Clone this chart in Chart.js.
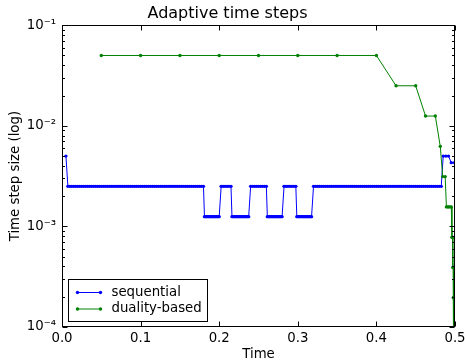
<!DOCTYPE html>
<html><head><meta charset="utf-8">
<script src="https://cdn.jsdelivr.net/npm/chart.js@4.4.1/dist/chart.umd.min.js"></script>
<style>html,body{margin:0;padding:0;background:#fff;} canvas{display:block;}</style>
</head><body>
<canvas id="c" width="465" height="360"></canvas>
<script>
const chartTitle = 'Adaptive time steps';
const xAxisTitle = 'Time';
const yAxisTitle = 'Time step size (log)';
const seriesNames = ['sequential', 'duality-based'];
const xTickValues = [0, 0.1, 0.2, 0.3, 0.4, 0.5];
const xTickLabels = ['0.0', '0.1', '0.2', '0.3', '0.4', '0.5'];
const yTickValues = [1e-4, 1e-3, 1e-2, 1e-1];
const yTickLabels = ['10⁻⁴', '10⁻³', '10⁻²', '10⁻¹'];

const sequentialTime = [
  0.005,
  0.0075,0.01,0.0125,0.015,0.0175,0.02,0.0225,0.025,0.0275,0.03,
  0.0325,0.035,0.0375,0.04,0.0425,0.045,0.0475,0.05,0.0525,0.055,
  0.0575,0.06,0.0625,0.065,0.0675,0.07,0.0725,0.075,0.0775,0.08,
  0.0825,0.085,0.0875,0.09,0.0925,0.095,0.0975,0.1,0.1025,0.105,
  0.1075,0.11,0.1125,0.115,0.1175,0.12,0.1225,0.125,0.1275,0.13,
  0.1325,0.135,0.1375,0.14,0.1425,0.145,0.1475,0.15,0.1525,0.155,
  0.1575,0.16,0.1625,0.165,0.1675,0.17,0.1725,0.175,0.1775,0.18,
  0.18125,0.1825,0.18375,0.185,0.18625,0.1875,0.18875,0.19,0.19125,0.1925,
  0.19375,0.195,0.19625,0.1975,0.19875,0.2,
  0.2025,0.205,0.2075,0.21,0.2125,0.215,
  0.21625,0.2175,0.21875,0.22,0.22125,0.2225,0.22375,0.225,0.22625,0.2275,
  0.22875,0.23,0.23125,0.2325,0.23375,0.235,0.23625,0.2375,
  0.24,0.2425,0.245,0.2475,0.25,0.2525,0.255,0.2575,0.26,
  0.26125,0.2625,0.26375,0.265,0.26625,0.2675,0.26875,0.27,0.27125,0.2725,
  0.27375,0.275,0.27625,0.2775,0.27875,0.28,
  0.2825,0.285,0.2875,0.29,0.2925,0.295,0.2975,
  0.29875,0.3,0.30125,0.3025,0.30375,0.305,0.30625,0.3075,0.30875,0.31,
  0.31125,0.3125,0.31375,0.315,0.31625,0.3175,
  0.32,0.3225,0.325,0.3275,0.33,0.3325,0.335,0.3375,0.34,0.3425,
  0.345,0.3475,0.35,0.3525,0.355,0.3575,0.36,0.3625,0.365,0.3675,
  0.37,0.3725,0.375,0.3775,0.38,0.3825,0.385,0.3875,0.39,0.3925,
  0.395,0.3975,0.4,0.4025,0.405,0.4075,0.41,0.4125,0.415,0.4175,
  0.42,0.4225,0.425,0.4275,0.43,0.4325,0.435,0.4375,0.44,0.4425,
  0.445,0.4475,0.45,0.4525,0.455,0.4575,0.46,0.4625,0.465,0.4675,
  0.47,0.4725,0.475,0.4775,0.48,0.4825,
  0.485,0.4883,0.4917,
  0.4953,0.4994
];
const sequentialStep = [
  0.005,
  0.0025,0.0025,0.0025,0.0025,0.0025,0.0025,0.0025,0.0025,0.0025,0.0025,
  0.0025,0.0025,0.0025,0.0025,0.0025,0.0025,0.0025,0.0025,0.0025,0.0025,
  0.0025,0.0025,0.0025,0.0025,0.0025,0.0025,0.0025,0.0025,0.0025,0.0025,
  0.0025,0.0025,0.0025,0.0025,0.0025,0.0025,0.0025,0.0025,0.0025,0.0025,
  0.0025,0.0025,0.0025,0.0025,0.0025,0.0025,0.0025,0.0025,0.0025,0.0025,
  0.0025,0.0025,0.0025,0.0025,0.0025,0.0025,0.0025,0.0025,0.0025,0.0025,
  0.0025,0.0025,0.0025,0.0025,0.0025,0.0025,0.0025,0.0025,0.0025,0.0025,
  0.00125,0.00125,0.00125,0.00125,0.00125,0.00125,0.00125,0.00125,0.00125,0.00125,
  0.00125,0.00125,0.00125,0.00125,0.00125,0.00125,
  0.0025,0.0025,0.0025,0.0025,0.0025,0.0025,
  0.00125,0.00125,0.00125,0.00125,0.00125,0.00125,0.00125,0.00125,0.00125,0.00125,
  0.00125,0.00125,0.00125,0.00125,0.00125,0.00125,0.00125,0.00125,
  0.0025,0.0025,0.0025,0.0025,0.0025,0.0025,0.0025,0.0025,0.0025,
  0.00125,0.00125,0.00125,0.00125,0.00125,0.00125,0.00125,0.00125,0.00125,0.00125,
  0.00125,0.00125,0.00125,0.00125,0.00125,0.00125,
  0.0025,0.0025,0.0025,0.0025,0.0025,0.0025,0.0025,
  0.00125,0.00125,0.00125,0.00125,0.00125,0.00125,0.00125,0.00125,0.00125,0.00125,
  0.00125,0.00125,0.00125,0.00125,0.00125,0.00125,
  0.0025,0.0025,0.0025,0.0025,0.0025,0.0025,0.0025,0.0025,0.0025,0.0025,
  0.0025,0.0025,0.0025,0.0025,0.0025,0.0025,0.0025,0.0025,0.0025,0.0025,
  0.0025,0.0025,0.0025,0.0025,0.0025,0.0025,0.0025,0.0025,0.0025,0.0025,
  0.0025,0.0025,0.0025,0.0025,0.0025,0.0025,0.0025,0.0025,0.0025,0.0025,
  0.0025,0.0025,0.0025,0.0025,0.0025,0.0025,0.0025,0.0025,0.0025,0.0025,
  0.0025,0.0025,0.0025,0.0025,0.0025,0.0025,0.0025,0.0025,0.0025,0.0025,
  0.0025,0.0025,0.0025,0.0025,0.0025,0.0025,
  0.005,0.005,0.005,
  0.0043,0.0043
];

const dualityTime = [
  0.05,0.1,0.15,0.2,0.25,0.3,0.35,0.4,
  0.425,0.45,
  0.4625,0.475,
  0.48125,
  0.484375,0.4875,
  0.4890625,0.490625,0.4921875,0.49375,0.4953125,
  0.49609375,0.496875,
  0.49726563,0.49765625,
  0.49785156,0.49804688,
  0.49814453,0.49824219
];
const dualityStep = [
  0.05,0.05,0.05,0.05,0.05,0.05,0.05,0.05,
  0.025,0.025,
  0.0125,0.0125,
  0.00625,
  0.003125,0.003125,
  0.0015625,0.0015625,0.0015625,0.0015625,0.0015625,
  0.00078125,0.00078125,
  0.000390625,0.000390625,
  0.0001953125,0.0001953125,
  0.00009765625,0.00009765625
];

const FONT = 'DejaVu Sans';
const seqColor = '#0000ff';
const dualColor = '#008000';

const toPts = (xs, ys) => xs.map((t, i) => ({ x: t, y: ys[i] }));

const framePlugin = {
  id: 'frameTicks',
  afterDatasetsDraw(chart) {
    const { ctx, chartArea: a, scales: { x, y } } = chart;
    const L = Math.round(a.left) + 0.5, R = Math.round(a.right) - 0.5;
    const T = Math.round(a.top) + 0.5, B = Math.round(a.bottom) - 0.5;
    ctx.save();
    ctx.strokeStyle = '#000';
    ctx.lineWidth = 1;
    ctx.beginPath();
    xTickValues.forEach(v => {
      const px = Math.round(x.getPixelForValue(v)) + 0.5;
      ctx.moveTo(px, B); ctx.lineTo(px, B - 5);
      ctx.moveTo(px, T); ctx.lineTo(px, T + 5);
    });
    yTickValues.forEach((v, i) => {
      const py = Math.round(y.getPixelForValue(v)) + 0.5;
      ctx.moveTo(L, py); ctx.lineTo(L + 5, py);
      ctx.moveTo(R, py); ctx.lineTo(R - 5, py);
      if (i < yTickValues.length - 1) {
        for (let k = 2; k <= 9; k++) {
          const my = Math.round(y.getPixelForValue(v * k)) + 0.5;
          ctx.moveTo(L, my); ctx.lineTo(L + 2.5, my);
          ctx.moveTo(R, my); ctx.lineTo(R - 2.5, my);
        }
      }
    });
    ctx.stroke();
    ctx.strokeRect(L, T, R - L, B - T);
    ctx.restore();
  },
  afterDraw(chart) {
    const { ctx, chartArea: a } = chart;
    const bx = Math.round(a.left) + 6.5, bw = 139, bh = 42;
    const by = Math.round(a.bottom) - 5.5 - bh;
    ctx.save();
    ctx.fillStyle = '#fff';
    ctx.fillRect(bx, by, bw, bh);
    ctx.strokeStyle = '#000';
    ctx.lineWidth = 1;
    ctx.strokeRect(bx, by, bw, bh);
    const rows = [by + 13, by + 29.5];
    chart.data.datasets.forEach((ds, i) => {
      const ry = rows[i];
      ctx.strokeStyle = ds.borderColor;
      ctx.lineWidth = 1;
      ctx.beginPath();
      ctx.moveTo(bx + 9, ry); ctx.lineTo(bx + 32, ry);
      ctx.stroke();
      ctx.fillStyle = ds.borderColor;
      [bx + 9, bx + 32].forEach(px => {
        ctx.beginPath(); ctx.arc(px, ry, 1.7, 0, Math.PI * 2); ctx.fill();
      });
      ctx.fillStyle = '#000';
      ctx.font = '13.3px "' + FONT + '"';
      ctx.textBaseline = 'middle';
      ctx.textAlign = 'left';
      ctx.fillText(ds.label, bx + 43, ry);
    });
    ctx.restore();
  }
};

new Chart(document.getElementById('c'), {
  type: 'line',
  data: {
    datasets: [
      {
        label: seriesNames[0],
        data: toPts(sequentialTime, sequentialStep),
        borderColor: seqColor, backgroundColor: seqColor,
        borderWidth: 1, pointRadius: 1.7, pointBorderWidth: 0,
        pointBackgroundColor: seqColor, tension: 0, order: 1
      },
      {
        label: seriesNames[1],
        data: toPts(dualityTime, dualityStep),
        borderColor: dualColor, backgroundColor: dualColor,
        borderWidth: 1, pointRadius: 1.7, pointBorderWidth: 0,
        pointBackgroundColor: dualColor, tension: 0, order: 0
      }
    ]
  },
  options: {
    responsive: false,
    animation: false,
    devicePixelRatio: 1,
    layout: { padding: { left: 0, right: 10, top: 0, bottom: 0 } },
    plugins: {
      legend: { display: false },
      tooltip: { enabled: false },
      title: {
        display: true, text: chartTitle, color: '#000',
        font: { family: FONT, size: 16, weight: 'normal' },
        padding: { top: 4, bottom: 2 }
      }
    },
    scales: {
      x: {
        type: 'linear', min: 0, max: 0.5,
        afterBuildTicks: s => { s.ticks = xTickValues.map(v => ({ value: v })); },
        afterFit: s => { s.height = 33; s.paddingLeft = 0; s.paddingRight = 0; },
        ticks: {
          color: '#000', font: { family: FONT, size: 13.3 }, padding: 4,
          autoSkip: false, maxRotation: 0,
          callback: (v, i) => xTickLabels[i]
        },
        grid: { display: false, drawTicks: false },
        border: { display: false },
        title: {
          display: true, text: xAxisTitle, color: '#000',
          font: { family: FONT, size: 13.3 }, padding: { top: 0, bottom: -3 }
        }
      },
      y: {
        type: 'logarithmic', min: 1e-4, max: 1e-1,
        afterBuildTicks: s => { s.ticks = yTickValues.map(v => ({ value: v, major: true })); },
        afterFit: s => { s.width = 62; s.paddingTop = 0; s.paddingBottom = 0; },
        ticks: {
          color: '#000', font: { family: FONT, size: 13.3 }, padding: 6,
          autoSkip: false,
          callback: (v, i) => yTickLabels[i]
        },
        grid: { display: false, drawTicks: false },
        border: { display: false },
        title: {
          display: true, text: yAxisTitle, color: '#000',
          font: { family: FONT, size: 13.3 }, padding: { top: 8, bottom: 0 }
        }
      }
    }
  },
  plugins: [framePlugin]
});
</script>
</body></html>
